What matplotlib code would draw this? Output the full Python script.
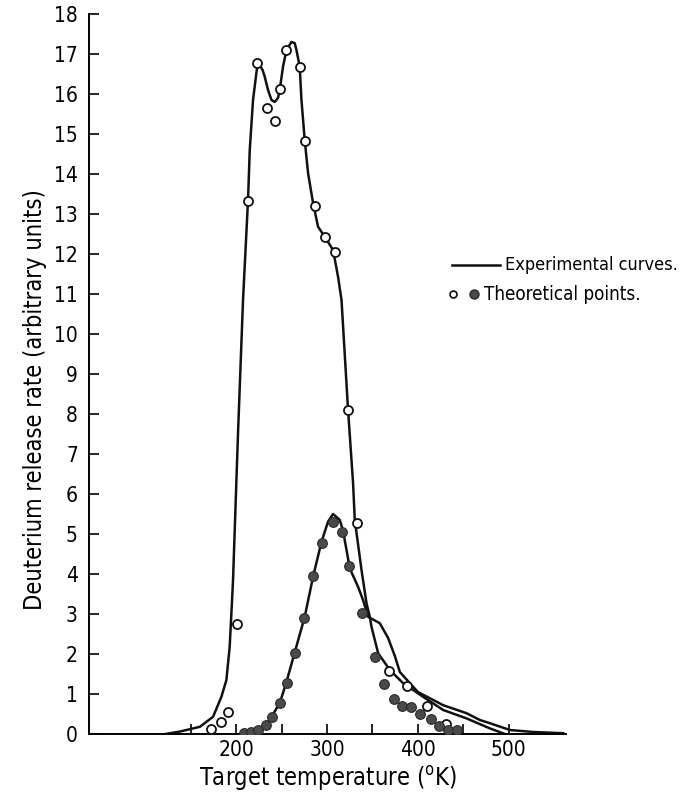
import matplotlib.pyplot as plt
from matplotlib.lines import Line2D

plt.rcParams['font.family'] = ['DejaVu Sans']
plt.rcParams['font.stretch'] = 'condensed'

##############################################################################
# data

# experimental curve 1 (double peak)
exp1_T = [122, 137.8, 160, 174.5, 183.7, 189.2, 192.8, 194.7, 196.5, 202, 207.5,
          213, 214.9, 218.5, 222.9, 225.9, 229, 231.4, 235, 238.8, 242.4, 246,
          247.9, 251.5, 255.3, 260.8, 264.4, 266.3, 269.9, 271.8, 275.4, 279.1,
          284.6, 290.1, 297.5, 306.6, 312.1, 315.9, 323.1, 328.6, 330.5, 337.9,
          343.4, 347, 348.9, 356.2, 369.1, 383.7, 405.7, 427.8, 453.5, 479.2, 495.7]
exp1_R = [0, 0.06, 0.18, 0.43, 0.93, 1.35, 2.18, 3.02, 3.85, 7.53, 10.85,
          13.35, 14.6, 15.85, 16.65, 16.72, 16.6, 16.43, 16.1, 15.85, 15.8, 15.9,
          16.1, 16.68, 17.1, 17.3, 17.27, 17.1, 16.68, 15.85, 14.85, 14.02,
          13.27, 12.68, 12.43, 12.1, 11.43, 10.85, 8.1, 6.28, 5.35, 4.1,
          3.27, 2.93, 2.68, 2.02, 1.6, 1.27, 0.93, 0.6, 0.39, 0.14, 0]

# experimental curve 2 (single peak)
exp2_T = [203.9, 214.9, 225.9, 233.3, 238.8, 247.9, 255.3, 264.4, 275.4, 284.6,
          293.8, 301.1, 306.6, 314, 317.6, 321.4, 325, 334.1, 339.6, 345.2, 358,
          367.2, 374.6, 380.1, 399.9, 427.8, 453.5, 468.2, 479.2, 501.2, 526.9, 559.9]
exp2_R = [0, 0.06, 0.14, 0.22, 0.43, 0.77, 1.3, 2.04, 2.93, 3.93,
          4.8, 5.31, 5.5, 5.35, 5.08, 4.6, 4.14, 3.68, 3.35, 2.93, 2.77,
          2.4, 1.95, 1.55, 1.05, 0.72, 0.52, 0.35, 0.27, 0.1, 0.05, 0.02]

# theoretical points
open_T = [171.9, 182.9, 191, 200.9, 213, 222.9, 233.9, 242.4, 248.7, 255.3, 269.9,
          276.2, 286.5, 298.2, 308.5, 322.5, 333, 368, 388.1, 409.5, 430.4]
open_R = [0.12, 0.31, 0.54, 2.74, 13.33, 16.77, 15.64, 15.33, 16.13, 17.1, 16.68,
          14.83, 13.21, 12.42, 12.06, 8.1, 5.27, 1.58, 1.2, 0.71, 0.25]

filled_T = [208.3, 216.7, 224, 232.5, 239.9, 247.9, 256, 265.2, 275.1, 284.6, 294.5,
            306.6, 316.2, 323.9, 338.2, 352.9, 362.8, 373.8, 383, 392.2, 402.1,
            413.9, 423, 433.3, 442.5]
filled_R = [0.02, 0.06, 0.1, 0.22, 0.43, 0.77, 1.28, 2.03, 2.91, 3.94, 4.78,
            5.31, 5.04, 4.2, 3.02, 1.93, 1.25, 0.88, 0.71, 0.67, 0.5,
            0.38, 0.2, 0.1, 0.1]

x_major = [200, 300, 400, 500]
x_minor = [150, 250, 350, 450]
y_ticks = list(range(0, 19))

##############################################################################
# plot

W, H = 688, 798
fig = plt.figure(figsize=(W / 100, H / 100), dpi=100)
ax = fig.add_axes([0.1294, 0.0802, 0.6933, 0.9023])

ax.plot(exp1_T, exp1_R, color='#111111', lw=1.8, zorder=2)
ax.plot(exp2_T, exp2_R, color='#111111', lw=1.8, zorder=2)
ax.plot(open_T, open_R, 'o', ms=6.5, mfc='white', mec='#111111', mew=1.3, zorder=3)
ax.plot(filled_T, filled_R, 'o', ms=7, mfc='#4a4a4a', mec='#2a2a2a', mew=0.8, zorder=3)

ax.set_xlim(38, 563)
ax.set_ylim(0, 18)

for s in ['top', 'right']:
    ax.spines[s].set_visible(False)
for s in ['left', 'bottom']:
    ax.spines[s].set_linewidth(1.4)

ax.set_xticks(x_major)
ax.set_xticks(x_minor, minor=True)
ax.set_yticks(y_ticks)
ax.tick_params(axis='both', which='both', direction='in', length=7, width=1.2,
               labelsize=15, pad=8)
ax.tick_params(axis='x', pad=4)

ax.set_xlabel('Target temperature ($^{\\mathrm{o}}$K)', fontsize=17)
ax.xaxis.set_label_coords(0.5, -0.042)
ax.set_ylabel('Deuterium release rate (arbitrary units)', fontsize=17)
ax.yaxis.set_label_coords(-0.088, 0.464)

# legend, drawn by hand
fig.add_artist(Line2D([452 / W, 500 / W], [1 - 265 / H, 1 - 265 / H],
                      transform=fig.transFigure, color='#111111', lw=1.8))
fig.text(505 / W, 1 - 265 / H, 'Experimental curves.', fontsize=13, va='center')
fig.add_artist(Line2D([453 / W], [1 - 294 / H], transform=fig.transFigure, ls='',
                      marker='o', ms=5, mfc='white', mec='#111111', mew=1.2))
fig.add_artist(Line2D([474 / W], [1 - 294 / H], transform=fig.transFigure, ls='',
                      marker='o', ms=6.5, mfc='#4a4a4a', mec='#2a2a2a'))
fig.text(484 / W, 1 - 294 / H, 'Theoretical points.', fontsize=13.5, va='center')

fig.savefig('out.png', dpi=100)
